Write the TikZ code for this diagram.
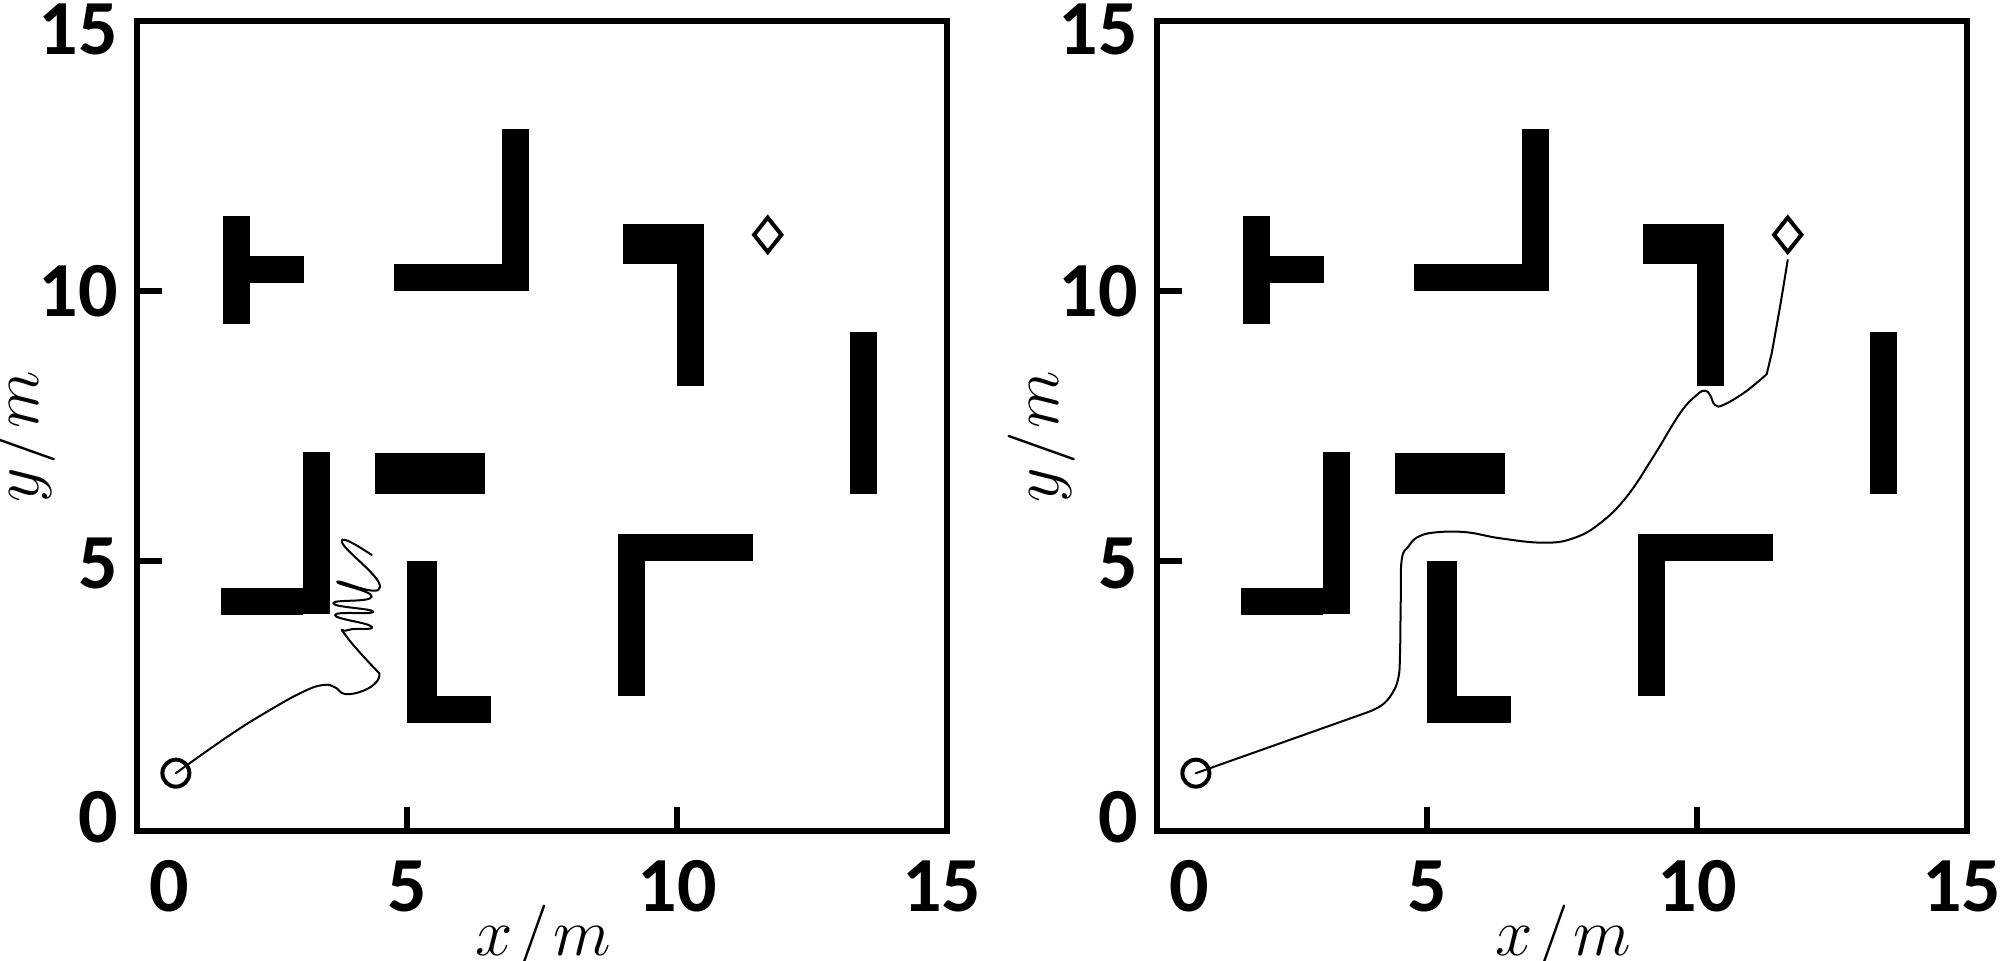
\documentclass[tikz,border=0pt]{standalone}
\usepackage[no-math]{fontspec}
\setmainfont{Carlito}
\usetikzlibrary{shapes.geometric}
\tikzset{
  obst/.style={fill=black, draw=none},
  framebox/.style={line width=3pt},
  tickmark/.style={line width=3pt},
  traj/.style={line width=1pt, line join=round, line cap=round},
  startpt/.style={circle, draw, line width=2pt, minimum size=13.5pt, inner sep=0pt},
  goalpt/.style={diamond, draw, line width=2pt, minimum width=14.5pt, minimum height=18pt, inner sep=0pt},
  ticklab/.style={font=\fontsize{39}{44}\selectfont\bfseries, inner sep=0pt},
  axlab/.style={font=\fontsize{24.88}{30}\selectfont, inner sep=0pt, scale=1.35},
  panel/.style={x=27pt, y=27pt}
}
\newcommand{\drawpanel}{%
  % obstacles
  \fill[obst] (1.6,9.4) rectangle (2.1,11.4);
  \fill[obst] (2.1,10.15) rectangle (3.1,10.65);
  \fill[obst] (4.75,10) rectangle (7.25,10.5);
  \fill[obst] (6.75,10) rectangle (7.25,13);
  \fill[obst] (9,10.5) rectangle (10.5,11.25);
  \fill[obst] (10,8.25) rectangle (10.5,11.25);
  \fill[obst] (13.2,6.25) rectangle (13.7,9.25);
  \fill[obst] (4.4,6.25) rectangle (6.45,7.0);
  \fill[obst] (1.55,4) rectangle (3.07,4.5);
  \fill[obst] (3.07,4.02) rectangle (3.57,7.02);
  \fill[obst] (5,2) rectangle (5.55,5);
  \fill[obst] (5,2) rectangle (6.55,2.5);
  \fill[obst] (8.9,2.5) rectangle (9.4,5.5);
  \fill[obst] (8.9,5) rectangle (11.4,5.5);
  % frame and ticks
  \draw[framebox] (0,0) rectangle (15,15);
  \draw[tickmark] (5,0) -- (5,0.46) (10,0) -- (10,0.46);
  \draw[tickmark] (0,5) -- (0.47,5) (0,10) -- (0.47,10);
  % tick labels
  \node[ticklab, anchor=east] (y15) at (-0.35,14.86) {15};
  \node[ticklab, anchor=east] (y10) at (-0.35,10) {10};
  \node[ticklab, anchor=east] (y5) at (-0.35,4.97) {5};
  \node[ticklab, anchor=east] (y0) at (-0.35,0.27) {0};
  \node[ticklab] (x0) at (0.59,-1.01) {0};
  \node[ticklab] (x5) at (5,-1.01) {5};
  \node[ticklab] (x10) at (10,-1.01) {10};
  \node[ticklab] (x15) at (14.9,-1.01) {15};
  % axis labels
  \node[axlab, anchor=base] (xlab) at (7.52,-2.3) {$x\mkern1mu/\mkern1mu m$};
  \node[axlab, rotate=90, anchor=base] (ylab) at (-1.83,7.31) {$y\mkern1mu/\mkern1mu m$};
  % start and goal
  \node[startpt] (start) at (0.72,1.08) {};
  \node[goalpt] (goal) at (11.68,11.05) {};
}
\begin{document}
\begin{tikzpicture}
\useasboundingbox (0,0) rectangle (1000pt,480.5pt);
% left panel
\begin{scope}[shift={(68.5pt,64.75pt)}, panel]
  \drawpanel
  \draw[traj] plot[smooth, tension=0.75] coordinates {
    (start.center) (1.722,1.787) (2.463,2.25) (3.080,2.589) (3.450,2.713)
    (3.667,2.670) (3.852,2.546) (4.191,2.607) (4.439,2.774) (4.487,2.930)}
    -- plot[smooth, tension=1] coordinates {(4.487,2.930)
    (3.883,3.607) (3.913,3.731) (4.346,3.793) (3.667,4.009) (4.376,4.070)
    (3.635,4.226) (4.346,4.348) (3.709,4.626) (4.5,4.522) (3.791,5.367)
    (4.346,5.12)};
\end{scope}
% right panel
\begin{scope}[shift={(578.5pt,64.75pt)}, panel]
  \drawpanel
  \draw[traj] (start.center) -- (3.85,2.19)
    plot[smooth, tension=0.7] coordinates {
    (3.85,2.19) (4.15,2.33) (4.35,2.55) (4.47,2.85) (4.5,3.3)
    (4.513,4.226) (4.531,5.028) (4.654,5.274) (4.839,5.459) (5.180,5.541)
    (5.735,5.541) (6.352,5.430) (7.154,5.348) (7.709,5.430) (8.204,5.707)
    (8.698,6.2) (9.191,6.941) (9.685,7.744) (9.994,8.083) (10.148,8.163)
    (10.241,8.083) (10.333,7.898) (10.487,7.898) (10.857,8.115) (11.167,8.361)
    (11.291,8.472)}
    -- plot[smooth, tension=0.6] coordinates {(11.383,8.856) (11.537,9.719) (11.680,10.583)};
\end{scope}
\end{tikzpicture}
\end{document}
